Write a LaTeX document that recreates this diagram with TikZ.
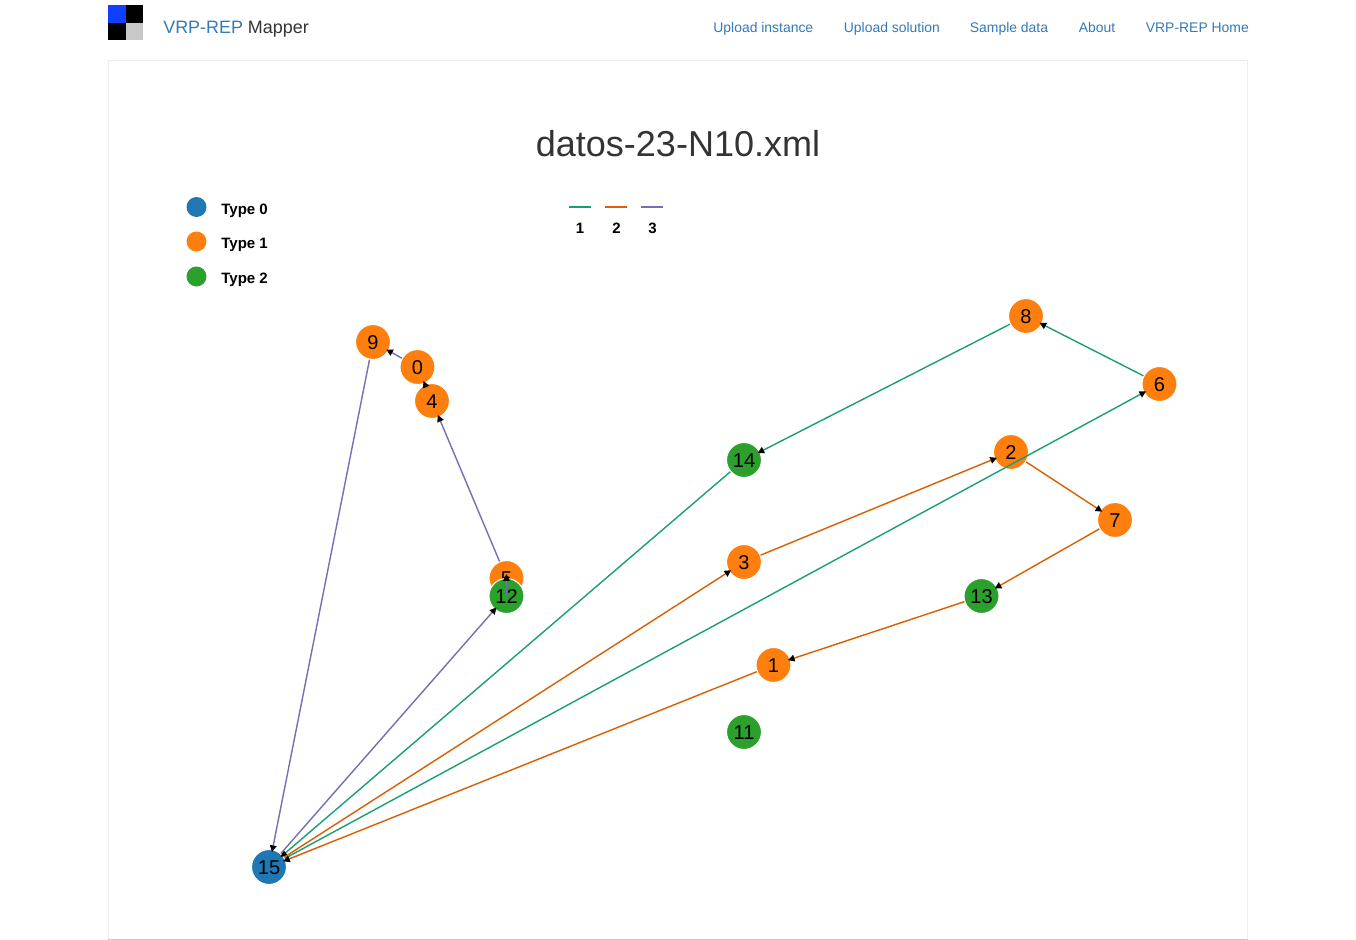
\documentclass[tikz,border=0pt]{standalone}
\usepackage{fontspec}
\setmainfont{Liberation Sans}
\usetikzlibrary{arrows.meta}
\definecolor{linkblue}{HTML}{337AB7}
\definecolor{darktext}{HTML}{333333}
\definecolor{panelline}{HTML}{EEEEEE}
\definecolor{logoblue}{HTML}{0F3FFF}
\definecolor{logogrey}{HTML}{C8C8C8}
\definecolor{typezero}{HTML}{1F77B4}
\definecolor{typeone}{HTML}{FF7F0E}
\definecolor{typetwo}{HTML}{2CA02C}
\definecolor{routeone}{HTML}{1B9E77}
\definecolor{routetwo}{HTML}{D95F02}
\definecolor{routethree}{HTML}{7570B3}
\tikzset{
  vertex/.style={circle,draw=white,line width=0.6pt,minimum size=0.7cm,inner sep=0pt,text height=8.7pt,text depth=0pt,font=\fontsize{11.4}{12}\selectfont,text=black},
  keydot/.style={circle,minimum size=0.4cm,inner sep=0pt},
  keytext/.style={anchor=base west,inner sep=0pt,font=\fontsize{8.55}{10}\selectfont\bfseries,text=black},
  navlink/.style={anchor=base west,inner sep=0pt,font=\fontsize{7.93}{10}\selectfont,text=linkblue},
  routeA/.style={routeone,line width=0.8pt,shorten >=-1.6pt,-{Triangle[black,length=3.8pt,width=3.8pt]}},
  routeB/.style={routetwo,line width=0.8pt,shorten >=-1.6pt,-{Triangle[black,length=3.8pt,width=3.8pt]}},
  routeC/.style={routethree,line width=0.8pt,shorten >=-1.6pt,-{Triangle[black,length=3.8pt,width=3.8pt]}},
}
\begin{document}
\begin{tikzpicture}[x=0.02cm,y=0.02cm]
\useasboundingbox (0,0) rectangle (1356,-940);
\fill [white] (0,0) rectangle (1356,-940);
\fill [logoblue] (108,-5) rectangle (125.5,-22.5);
\fill [black] (125.5,-5) rectangle (143,-22.5);
\fill [black] (108,-22.5) rectangle (125.5,-40);
\fill [logogrey] (125.5,-22.5) rectangle (143,-40);
\node (brand) [anchor=base west,inner sep=0pt,font=\fontsize{10.2}{12}\selectfont] at (163,-33) {\textcolor{linkblue}{VRP-REP} \textcolor{darktext}{Mapper}};
\node (nav1) [navlink] at (713,-32) {Upload instance};
\node (nav2) [navlink] at (843.5,-32) {Upload solution};
\node (nav3) [navlink] at (969.5,-32) {Sample data};
\node (nav4) [navlink] at (1078.5,-32) {About};
\node (nav5) [navlink] at (1145.5,-32) {VRP-REP Home};
\draw [panelline] (108.5,-939) -- (108.5,-60.5) -- (1247.5,-60.5) -- (1247.5,-939);
\draw [logogrey] (108,-939.3) -- (1248,-939.3);
\node (title) [inner sep=0pt,font=\fontsize{20.5}{24}\selectfont,text=darktext] at (678,-143.5) {datos-23-N10.xml};
\node (dot0) [keydot,fill=typezero] at (196.5,-207) {};
\node (dot1) [keydot,fill=typeone] at (196.5,-241.5) {};
\node (dot2) [keydot,fill=typetwo] at (196.5,-276.5) {};
\node (type0) [keytext] at (221,-214.5) {Type 0};
\node (type1) [keytext] at (221,-248.5) {Type 1};
\node (type2) [keytext] at (221,-283.5) {Type 2};
\coordinate (keyA) at (569,-207);
\coordinate (keyAend) at (591,-207);
\coordinate (keyB) at (605,-207);
\coordinate (keyBend) at (627,-207);
\coordinate (keyC) at (641,-207);
\coordinate (keyCend) at (663,-207);
\draw [routeone,line width=0.75pt] (keyA) -- (keyAend);
\draw [routetwo,line width=0.75pt] (keyB) -- (keyBend);
\draw [routethree,line width=0.75pt] (keyC) -- (keyCend);
\node (route1) [keytext,anchor=base] at (580,-233) {1};
\node (route2) [keytext,anchor=base] at (616.5,-233) {2};
\node (route3) [keytext,anchor=base] at (652.5,-233) {3};
\node (n0) [vertex,fill=typeone] at (417.5,-367) {0};
\node (n1) [vertex,fill=typeone] at (773.5,-665) {1};
\node (n2) [vertex,fill=typeone] at (1011,-452) {2};
\node (n3) [vertex,fill=typeone] at (744,-562) {3};
\node (n4) [vertex,fill=typeone] at (432,-401) {4};
\node (n5) [vertex,fill=typeone] at (506.5,-578) {5};
\node (n6) [vertex,fill=typeone] at (1159.5,-384) {6};
\node (n7) [vertex,fill=typeone] at (1115,-520) {7};
\node (n8) [vertex,fill=typeone] at (1026,-316) {8};
\node (n9) [vertex,fill=typeone] at (373,-342) {9};
\node (n11) [vertex,fill=typetwo] at (744,-732) {11};
\node (n12) [vertex,fill=typetwo] at (506.5,-596) {12};
\node (n13) [vertex,fill=typetwo] at (981.5,-596) {13};
\node (n14) [vertex,fill=typetwo] at (744,-460) {14};
\node (n15) [vertex,fill=typezero] at (269,-867) {15};
\coordinate (tip5) at (506.5,-577);
\draw [routeA] (n6) -- (n8);
\draw [routeA] (n8) -- (n14);
\draw [routeA] (n14) -- (n15);
\draw [routeA] (n15) -- (n6);
\draw [routeB] (n15) -- (n3);
\draw [routeB] (n3) -- (n2);
\draw [routeB] (n2) -- (n7);
\draw [routeB] (n7) -- (n13);
\draw [routeB] (n13) -- (n1);
\draw [routeB] (n1) -- (n15);
\draw [routeC] (n12.center) -- (tip5);
\draw [routeC] (n5) -- (n4);
\draw [routeC] (n4) -- (n0);
\draw [routeC] (n0) -- (n9);
\draw [routeC] (n9) -- (n15);
\draw [routeC] (n15) -- (n12);
\end{tikzpicture}
\end{document}
